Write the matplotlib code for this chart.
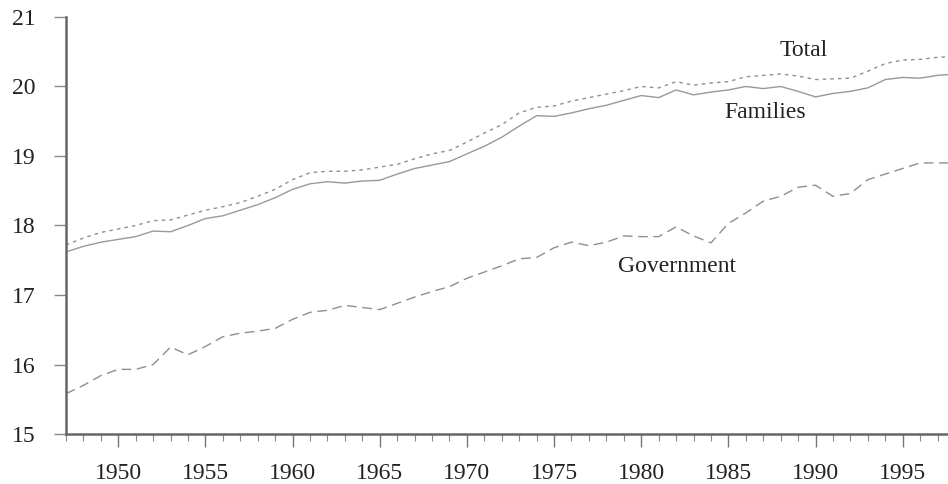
import matplotlib
matplotlib.use('Agg')
import matplotlib.pyplot as plt
from matplotlib.ticker import MultipleLocator

years = list(range(1947, 1999))

families = [17.62, 17.70, 17.76, 17.80, 17.84, 17.92, 17.91, 18.00, 18.10, 18.14,
            18.22, 18.30, 18.40, 18.52, 18.60, 18.63, 18.61, 18.64, 18.65, 18.74,
            18.82, 18.87, 18.92, 19.03, 19.14, 19.27, 19.43, 19.58, 19.57, 19.62,
            19.68, 19.73, 19.80, 19.87, 19.84, 19.95, 19.88, 19.92, 19.95, 20.00,
            19.97, 20.00, 19.93, 19.85, 19.90, 19.93, 19.98, 20.10, 20.13, 20.12,
            20.16, 20.18]

total = [17.72, 17.82, 17.90, 17.95, 18.00, 18.07, 18.08, 18.15, 18.22, 18.27,
         18.33, 18.42, 18.52, 18.66, 18.76, 18.78, 18.78, 18.80, 18.84, 18.88,
         18.96, 19.03, 19.08, 19.20, 19.33, 19.45, 19.62, 19.70, 19.72, 19.79,
         19.84, 19.89, 19.94, 20.00, 19.98, 20.07, 20.02, 20.05, 20.07, 20.14,
         20.16, 20.18, 20.15, 20.10, 20.11, 20.12, 20.22, 20.33, 20.38, 20.39,
         20.42, 20.43]

government = [15.58, 15.70, 15.84, 15.93, 15.93, 16.00, 16.25, 16.14, 16.26, 16.40,
              16.45, 16.48, 16.52, 16.65, 16.75, 16.78, 16.85, 16.82, 16.79, 16.88,
              16.97, 17.05, 17.12, 17.24, 17.33, 17.42, 17.52, 17.54, 17.68, 17.76,
              17.71, 17.76, 17.85, 17.84, 17.84, 17.98, 17.85, 17.75, 18.03, 18.18,
              18.35, 18.42, 18.55, 18.58, 18.42, 18.46, 18.66, 18.74, 18.82, 18.90,
              18.90, 18.90]

plt.rcParams['font.family'] = ['Liberation Serif', 'DejaVu Serif']

fig = plt.figure(figsize=(9.48, 4.84), dpi=100)
ax = fig.add_axes([0.0696, 0.1033, 0.9304, 0.8616])

gray = '#8f8f8f'
ax.plot(years, total, color=gray, lw=1.0, linestyle=(0, (2.5, 3)))
ax.plot(years, families, color='#999999', lw=1.0)
ax.plot(years, government, color=gray, lw=1.0, linestyle=(0, (7, 4)))

ax.text(1989.3, 20.52, 'Total', fontsize=17, ha='center', va='center', color='#222222')
ax.text(1987.1, 19.62, 'Families', fontsize=17, ha='center', va='center', color='#222222')
ax.text(1982.05, 17.41, 'Government', fontsize=17, ha='center', va='center', color='#222222')

ax.set_xlim(1947, 1997.6)
ax.set_ylim(15, 21)
ax.xaxis.set_major_locator(MultipleLocator(5))
ax.xaxis.set_minor_locator(MultipleLocator(1))
ax.yaxis.set_major_locator(MultipleLocator(1))

for s in ['top', 'right']:
    ax.spines[s].set_visible(False)
for s in ['left', 'bottom']:
    ax.spines[s].set_color('#666666')
    ax.spines[s].set_linewidth(1.8)

ax.tick_params(axis='x', which='major', direction='out', length=9, width=1, colors='#777777',
               labelcolor='#222222', labelsize=17, pad=12)
ax.tick_params(axis='x', which='minor', direction='out', length=5, width=0.8, colors='#888888')
ax.tick_params(axis='y', which='major', direction='out', length=9, width=1, colors='#888888',
               labelcolor='#222222', labelsize=17, pad=13)

fig.savefig('out.png', dpi=100)
